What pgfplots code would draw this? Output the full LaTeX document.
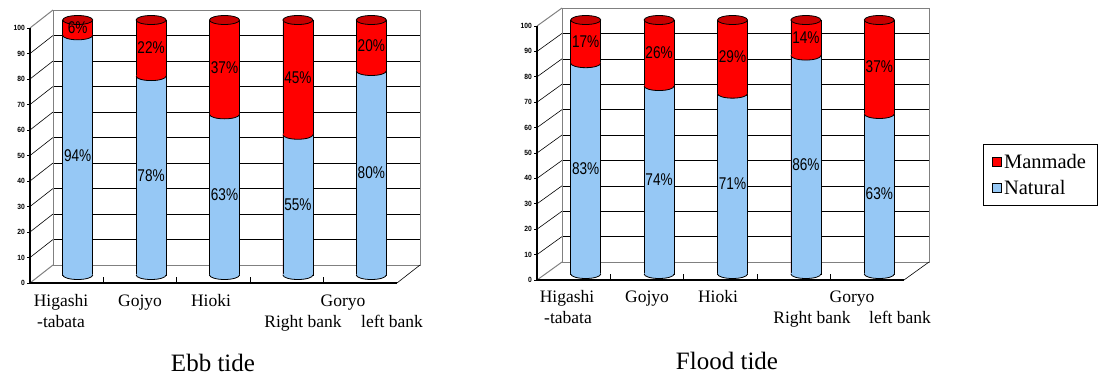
\documentclass[border=0pt]{standalone}
\usepackage{fontspec}
\setmainfont{Liberation Serif}
\newfontfamily\lblfont[FakeStretch=0.8]{Liberation Sans}
\newfontfamily\tickfont[FakeStretch=0.9]{Liberation Sans}
\usepackage{pgfplots}
\usepackage{pgfplotstable}
\pgfplotsset{compat=1.18}

\definecolor{natA}{RGB}{150,200,245}
\definecolor{man}{RGB}{255,0,0}
\definecolor{manD}{RGB}{200,0,0}
\definecolor{wallgray}{RGB}{128,128,128}

\pgfdeclareplotmark{cap}{%
  \pgfpathellipse{\pgfpointorigin}{\pgfqpoint{15pt}{0pt}}{\pgfqpoint{0pt}{4.5pt}}%
  \pgfusepathqfillstroke}
\pgfdeclareplotmark{arcfill}{%
  \pgfpathellipse{\pgfpointorigin}{\pgfqpoint{15pt}{0pt}}{\pgfqpoint{0pt}{4.5pt}}%
  \pgfusepathqfill
  \pgfpathmoveto{\pgfqpoint{-15pt}{0pt}}%
  \pgfpatharc{180}{360}{15pt and 4.5pt}%
  \pgfusepathqstroke}

\pgfplotstableread{
x nat man
0.5 94 6
1.5 78 22
2.5 63 37
3.5 55 45
4.5 80 20
}\ebb
\pgfplotstableread{
x nat man
0.5 83 17
1.5 74 26
2.5 71 29
3.5 86 14
4.5 63 37
}\flood

\pgfplotsset{cyl/.style={scale only axis, width=367pt, xmin=0, xmax=5, ymin=0, ymax=100,
  hide axis, clip=false, anchor=south west, /pgf/number format/assume math mode=true}}

% #1 fx, #2 fy, #3 bx, #4 by
\newcommand\cylframe[4]{%
  \pgfplotsinvokeforeach{10,20,...,90}{%
    \draw[black, line width=0.6pt] ([shift={(#3pt,#4pt)}]axis cs:0,##1) -- ([shift={(#3pt,#4pt)}]axis cs:5,##1);
    \draw[black, line width=0.6pt] ([shift={(#1pt,#2pt)}]axis cs:0,##1) -- ([shift={(#3pt,#4pt)}]axis cs:0,##1);
  }
  \draw[wallgray, line width=1pt] ([shift={(#3pt,#4pt)}]axis cs:0,0) rectangle ([shift={(#3pt,#4pt)}]axis cs:5,100);
  \draw[wallgray, line width=1pt] ([shift={(#1pt,#2pt)}]axis cs:0,0) -- ([shift={(#3pt,#4pt)}]axis cs:0,0);
  \draw[wallgray, line width=1pt] ([shift={(#1pt,#2pt)}]axis cs:0,100) -- ([shift={(#3pt,#4pt)}]axis cs:0,100);
  \draw[black, line width=0.6pt] ([shift={(#1pt,#2pt)}]axis cs:5,0) -- ([shift={(#3pt,#4pt)}]axis cs:5,0);
  \draw[black, line width=1.2pt] ([shift={(#1pt,#2pt)}]axis cs:0,100) -- ([shift={(#1pt,#2pt)}]axis cs:0,0) -- ([shift={(#1pt,#2pt)}]axis cs:5,0);
  \pgfplotsinvokeforeach{0,10,...,100}{%
    \draw[black, line width=0.8pt] ([shift={(#1pt,#2pt)}]axis cs:0,##1) -- ++(-3pt,0pt);
    \node[anchor=east, inner sep=0pt, font=\tickfont\bfseries\fontsize{7.5}{8}\selectfont] at ([shift={(#1pt-5pt,#2pt)}]axis cs:0,##1) {##1};
  }
  \pgfplotsinvokeforeach{1,2,3,4}{%
    \draw[black, line width=0.8pt] ([shift={(#1pt,#2pt)}]axis cs:##1,0) -- ++(0pt,6pt);
  }
}

\newcommand\cylbars[1]{%
  \addplot[forget plot, ybar, bar width=30pt, bar shift=0pt, draw=black, line width=0.8pt, fill=man]
    table[x=x, y expr=\thisrow{nat}+\thisrow{man}]{#1};
  \addplot[forget plot, ybar, bar width=30pt, bar shift=0pt, draw=black, line width=0.8pt, fill=natA]
    table[x=x, y=nat]{#1};
  \addplot[forget plot, only marks, mark=arcfill, mark options={fill=natA, draw=black, line width=0.8pt}]
    table[x=x, y expr=0]{#1};
  \addplot[forget plot, only marks, mark=arcfill, mark options={fill=man, draw=black, line width=0.8pt}]
    table[x=x, y=nat]{#1};
  \addplot[forget plot, only marks, mark=cap, mark options={fill=manD, draw=black, line width=0.8pt}]
    table[x=x, y expr=\thisrow{nat}+\thisrow{man}]{#1};
  \addplot[forget plot, draw=none, mark=none, point meta=\thisrow{nat},
    nodes near coords={\pgfmathprintnumber{\pgfplotspointmeta}\%},
    every node near coord/.append style={anchor=center, font=\lblfont\fontsize{17}{18}\selectfont, text=black}]
    table[x=x, y expr=\thisrow{nat}/2]{#1};
  \addplot[forget plot, draw=none, mark=none, point meta=\thisrow{man},
    nodes near coords={\pgfmathprintnumber{\pgfplotspointmeta}\%},
    every node near coord/.append style={anchor=center, font=\lblfont\fontsize{17}{18}\selectfont, text=black}]
    table[x=x, y expr=\thisrow{nat}+\thisrow{man}/2]{#1};
}

\begin{document}
\begin{tikzpicture}
\useasboundingbox (0,0) rectangle (1098pt,376pt);

\begin{axis}[cyl, at={(41pt,101pt)}, height=255pt]
  \cylframe{-11}{-8}{12}{10}
  \cylbars{\ebb}
\end{axis}

\begin{axis}[cyl, at={(549pt,102pt)}, height=254pt,
  legend image code/.code={\draw[#1, draw=black, line width=0.6pt] (0pt,-4.5pt) rectangle (9pt,4.5pt);},
  legend cell align=left,
  legend style={at={(1.183,0.512)}, anchor=north west, draw=black, line width=0.6pt,
    font=\fontsize{20.5}{22}\selectfont, row sep=6pt, inner xsep=9pt, inner ysep=8pt}]
  \cylframe{-12}{-6}{13}{12}
  \cylbars{\flood}
  \addlegendimage{fill=man}\addlegendentry{Manmade}
  \addlegendimage{fill=natA}\addlegendentry{Natural}
\end{axis}

\begin{scope}[every node/.style={anchor=base, inner sep=0pt, font=\fontsize{17.5}{18}\selectfont}]
  \node at (61pt,70pt) {Higashi};
  \node at (61pt,49pt) {-tabata};
  \node at (140pt,70pt) {Gojyo};
  \node at (211pt,70pt) {Hioki};
  \node at (343pt,70pt) {Goryo};
  \node at (303pt,49pt) {Right bank};
  \node at (392pt,49pt) {left bank};
  \node at (567pt,74pt) {Higashi};
  \node at (568pt,53pt) {-tabata};
  \node at (647pt,74pt) {Gojyo};
  \node at (718pt,74pt) {Hioki};
  \node at (852pt,74pt) {Goryo};
  \node at (812pt,53pt) {Right bank};
  \node at (900pt,53pt) {left bank};
  \node[font=\fontsize{25}{26}\selectfont] at (213pt,5pt) {Ebb tide};
  \node[font=\fontsize{25}{26}\selectfont] at (727pt,7pt) {Flood tide};
\end{scope}
\end{tikzpicture}
\end{document}
